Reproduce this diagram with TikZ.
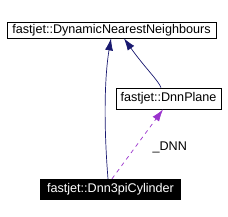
\documentclass[tikz,border=0pt]{standalone}
\usepackage{fontspec}
\setmainfont{Liberation Sans}
\usetikzlibrary{arrows.meta}
\definecolor{edgeblue}{RGB}{25,25,112}
\definecolor{edgepurple}{RGB}{154,50,205}
\tikzset{
  box/.style={draw=black, line width=0.8pt, inner sep=0pt, font=\fontsize{12.6}{15}\selectfont},
  blackbox/.style={fill=black, text=white, inner sep=0pt, font=\fontsize{12.6}{15}\selectfont},
  inherit/.style={draw=edgeblue, line width=0.7pt, -{Latex[length=12pt,width=8pt]}},
  usage/.style={draw=edgepurple, line width=0.7pt, dashed, dash pattern=on 4pt off 4pt, -{Latex[length=12pt,width=8pt]}},
}
\begin{document}
\begin{tikzpicture}[x=1pt,y=-1pt]
\useasboundingbox (0,0) rectangle (228,217);
\node[box, minimum width=209pt, minimum height=16pt] (dnn) at (111.5,30) {fastjet::DynamicNearestNeighbours};
\node[box, minimum width=105pt, minimum height=21pt] (plane) at (168.5,98.5) {fastjet::DnnPlane};
\node[blackbox, minimum width=141pt, minimum height=21pt] (cyl) at (110.5,189.5) {fastjet::Dnn3piCylinder};
\coordinate (c1) at (108,179);
\coordinate (t1) at (111,38);
\coordinate (p1) at (161,88);
\coordinate (t2) at (124,38);
\coordinate (c2) at (112,179);
\coordinate (t3) at (163,109);
\draw[inherit] (cyl.north -| c1) .. controls (104,130) and (104,80) .. (dnn.south -| t1);
\draw[inherit] (plane.north -| p1) .. controls (158,80) and (145,68) .. (dnn.south -| t2);
\draw[usage] (cyl.north -| c2) -- (plane.south -| t3) node[pos=0.45, right=14pt, font=\fontsize{12.6}{15}\selectfont] {\_DNN};
\end{tikzpicture}
\end{document}
